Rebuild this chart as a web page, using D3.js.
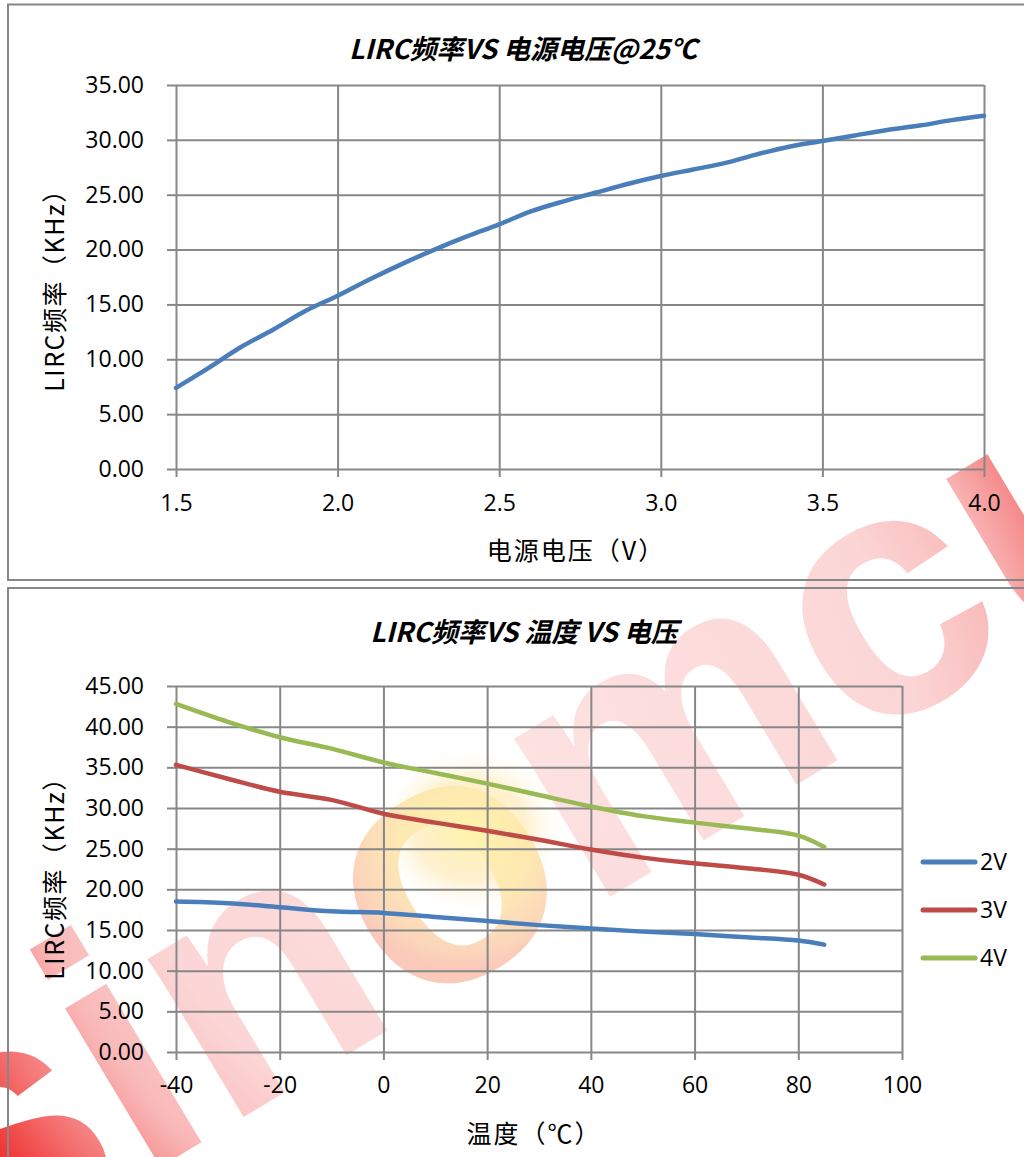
<!DOCTYPE html>
<html><head><meta charset="utf-8">
<script src="https://cdn.jsdelivr.net/npm/d3@7"></script>
<style>
body{margin:0;background:#fff;}
svg{display:block;}
</style></head>
<body>
<script>
// ---------- DATA ----------
const voltages   = [1.5,1.6,1.7,1.8,1.9,2.0,2.1,2.2,2.3,2.4,2.5,2.6,2.7,2.8,2.9,3.0,3.1,3.2,3.3,3.4,3.5,3.6,3.7,3.8,3.9,4.0];
const freqAt25C  = [7.4,9.2,11.1,12.7,14.4,15.8,17.3,18.7,20.0,21.2,22.3,23.5,24.4,25.2,26.0,26.7,27.3,27.9,28.7,29.4,29.9,30.4,30.9,31.3,31.8,32.2];
const voltTicks  = [1.5,2.0,2.5,3.0,3.5,4.0];
const freqTicks1 = [0,5,10,15,20,25,30,35];

const temperatures = [-40,-30,-20,-10,0,10,20,30,40,50,60,70,80,85];
const freq2V = [18.5,18.3,17.8,17.3,17.1,16.6,16.1,15.6,15.2,14.8,14.5,14.1,13.7,13.2];
const freq3V = [35.3,33.6,32.0,31.0,29.3,28.2,27.2,26.1,24.9,23.9,23.2,22.6,21.8,20.6];
const freq4V = [42.8,40.6,38.7,37.3,35.6,34.3,33.0,31.6,30.2,29.0,28.2,27.5,26.6,25.2];
const seriesNames = ["2V","3V","4V"];
const tempTicks  = [-40,-20,0,20,40,60,80,100];
const freqTicks2 = [0,5,10,15,20,25,30,35,40,45];

const title1 = "LIRC频率VS 电源电压@25℃";
const title2 = "LIRC频率VS 温度 VS 电压";
const yTitle = "LIRC频率（KHz）";
const xTitle1 = "电源电压（V）";
const xTitle2 = "温度（℃）";
const watermark = ["sin","o","mcu"];

// ---------- STYLE ----------
const W = 1024, H = 1157;
const gridColor = "#878787";
const colors = ["#4a7ebb","#be4b48","#98b954"];
const numFont = "'Open Sans','Noto Sans',sans-serif";
const cjkFont = "'Noto Sans CJK SC','Noto Sans',sans-serif";

const svg = d3.select("body").append("svg").attr("width",W).attr("height",H);
svg.append("rect").attr("width",W).attr("height",H).attr("fill","#fff");

// ---------- WATERMARK ----------
const defs = svg.append("defs");
const wmT = {x:10, y:1150, a:-31};
function toLocal(px,py){
  const dx=px-wmT.x, dy=py-wmT.y, r=-wmT.a*Math.PI/180;
  return [dx*Math.cos(r)-dy*Math.sin(r), dx*Math.sin(r)+dy*Math.cos(r)];
}
const c1 = toLocal(520,760);
const g1 = defs.append("radialGradient").attr("id","wmGrad").attr("gradientUnits","userSpaceOnUse")
  .attr("cx",c1[0]).attr("cy",c1[1]).attr("r",720);
[[0,"#fde2e2"],[0.55,"#fcd6d6"],[0.7,"#f9b8b8"],[0.82,"#f47070"],[0.92,"#ef2a2a"],[1,"#ee1010"]].forEach(s=>
  g1.append("stop").attr("offset",s[0]).attr("stop-color",s[1]));
const c2 = toLocal(465,840);
const g2 = defs.append("radialGradient").attr("id","logoGrad").attr("gradientUnits","userSpaceOnUse")
  .attr("cx",c2[0]).attr("cy",c2[1]).attr("r",130);
[[0,"#fff4b0"],[0.5,"#fde6a8"],[0.85,"#fbcfae"],[1,"#f9c0ae"]].forEach(s=>
  g2.append("stop").attr("offset",s[0]).attr("stop-color",s[1]));
const g3 = defs.append("radialGradient").attr("id","sunGrad");
[[0,"#fff2a0",0.9],[0.6,"#fde8b0",0.6],[1,"#fff",0]].forEach(s=>
  g3.append("stop").attr("offset",s[0]).attr("stop-color",s[1]).attr("stop-opacity",s[2]));
svg.append("ellipse").attr("cx",470).attr("cy",830).attr("rx",95).attr("ry",85).attr("fill","url(#sunGrad)");

const wm = svg.append("g").attr("transform",`translate(${wmT.x},${wmT.y}) rotate(${wmT.a})`);
const wmText = wm.append("text").attr("x",-99).attr("y",92)
  .style("font-family","'Liberation Sans',Arial,sans-serif").style("font-weight","bold")
  .style("font-size","350px").attr("fill","url(#wmGrad)");
watermark.forEach((t,i)=>{
  const ts = wmText.append("tspan").text(t);
  if(i===1) ts.attr("fill","url(#logoGrad)").attr("fill-opacity",0.85);
});

// ---------- FRAMES ----------
svg.append("rect").attr("x",8).attr("y",4.5).attr("width",1030).attr("height",575.5)
  .attr("fill","none").attr("stroke",gridColor).attr("stroke-width",2);
svg.append("rect").attr("x",8).attr("y",588).attr("width",1030).attr("height",600)
  .attr("fill","none").attr("stroke",gridColor).attr("stroke-width",2);

function styleAxis(g){
  g.select(".domain").remove();
  g.selectAll("line").attr("stroke",gridColor).attr("stroke-width",2);
  g.selectAll("text").style("font-family",numFont).style("font-size","23px").attr("fill","#000");
}

function drawChart(cfg){
  const x = d3.scaleLinear().domain(cfg.xDomain).range([cfg.left,cfg.right]);
  const y = d3.scaleLinear().domain(cfg.yDomain).range([cfg.bottom,cfg.top]);
  const g = svg.append("g");
  g.append("g").attr("transform",`translate(${cfg.left},0)`)
    .call(d3.axisLeft(y).tickValues(cfg.yTicks).tickSize(-(cfg.right-cfg.left)).tickFormat(""))
    .call(a=>{a.select(".domain").remove();a.selectAll("line").attr("stroke",gridColor).attr("stroke-width",2);});
  g.append("g").attr("transform",`translate(0,${cfg.bottom})`)
    .call(d3.axisBottom(x).tickValues(cfg.xTicks).tickSize(-(cfg.bottom-cfg.top)).tickFormat(""))
    .call(a=>{a.select(".domain").remove();a.selectAll("line").attr("stroke",gridColor).attr("stroke-width",2);});
  g.append("g").attr("transform",`translate(${cfg.left},0)`)
    .call(d3.axisLeft(y).tickValues(cfg.yTicks).tickSize(9).tickPadding(23).tickFormat(d3.format(".2f")))
    .call(styleAxis);
  g.append("g").attr("transform",`translate(0,${cfg.bottom})`)
    .call(d3.axisBottom(x).tickValues(cfg.xTicks).tickSize(8).tickPadding(cfg.xPad).tickFormat(cfg.xFmt))
    .call(styleAxis);
  const line = d3.line().curve(d3.curveCatmullRom.alpha(0.5)).x(d=>x(d[0])).y(d=>y(d[1]));
  cfg.series.forEach((s,i)=>{
    g.append("path").datum(cfg.xs.map((v,j)=>[v,s[j]]))
      .attr("d",line).attr("fill","none").attr("stroke",cfg.colors[i])
      .attr("stroke-width",4.5).attr("stroke-linecap","round").attr("stroke-linejoin","round");
  });
  svg.append("text").attr("x",cfg.titleX).attr("y",cfg.titleY).attr("text-anchor","middle")
    .style("font-family",cjkFont).style("font-size","27px").style("font-weight","bold").style("font-style","italic")
    .text(cfg.title);
  svg.append("text").attr("transform",`translate(64,${cfg.yTitleY}) rotate(-90)`).attr("text-anchor","middle")
    .style("font-family",cjkFont).style("font-size","25px").style("letter-spacing","1.5px").text(yTitle);
  svg.append("text").attr("x",cfg.xTitleX).attr("y",cfg.xTitleY).attr("text-anchor","middle")
    .style("font-family",cjkFont).style("font-size","25px").style("letter-spacing","2px").text(cfg.xTitle);
  return {x,y};
}

drawChart({
  xDomain:[1.5,4.0], yDomain:[0,35], left:176, right:984, top:85, bottom:469,
  xTicks:voltTicks, yTicks:freqTicks1, xFmt:d3.format(".1f"), xPad:18,
  xs:voltages, series:[freqAt25C], colors:[colors[0]],
  title:title1, titleX:523, titleY:59, yTitleY:284, xTitle:xTitle1, xTitleX:576, xTitleY:560
});

drawChart({
  xDomain:[-40,100], yDomain:[0,45], left:176, right:902, top:686, bottom:1052,
  xTicks:tempTicks, yTicks:freqTicks2, xFmt:d=>String(d), xPad:17,
  xs:temperatures, series:[freq2V,freq3V,freq4V], colors:colors,
  title:title2, titleX:524, titleY:642, yTitleY:872, xTitle:xTitle2, xTitleX:534, xTitleY:1143
});

// legend
const legendY = d3.scalePoint().domain(seriesNames).range([862,958]);
const lg = svg.append("g");
seriesNames.forEach((n,i)=>{
  lg.append("line").attr("x1",923).attr("x2",975).attr("y1",legendY(n)).attr("y2",legendY(n))
    .attr("stroke",colors[i]).attr("stroke-width",5).attr("stroke-linecap","round");
  lg.append("text").attr("x",980).attr("y",legendY(n)+8).style("font-family",numFont)
    .style("font-size","23px").text(n);
});
</script>
</body></html>
